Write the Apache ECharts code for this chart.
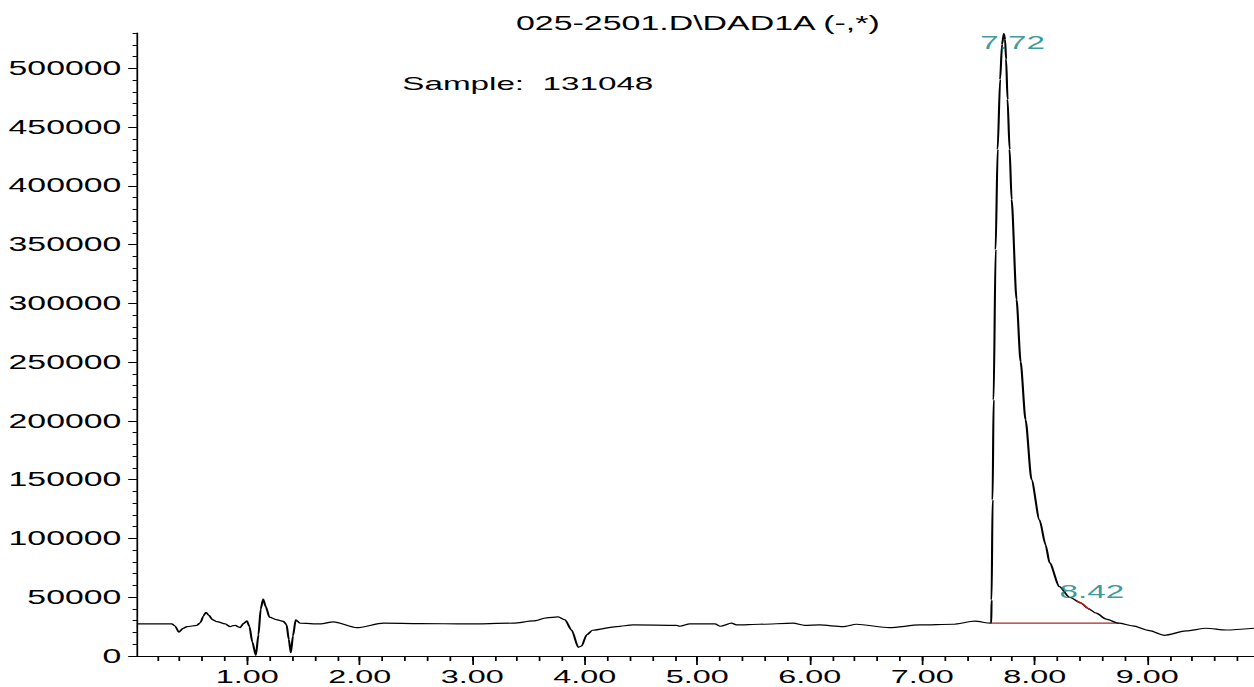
<!DOCTYPE html>
<html>
<head>
<meta charset="utf-8">
<script src="https://cdn.jsdelivr.net/npm/echarts@6/dist/echarts.min.js"></script>
<style>
html,body{margin:0;padding:0;overflow:hidden;background:#fff;}
#wrap{width:717px;height:687px;transform:scaleX(1.749);transform-origin:0 0;}
</style>
</head>
<body>
<div id="wrap"></div>
<script>
// ---- data (retention time in min, signal) ----
const times = [0.02,0.33,0.36,0.392,0.43,0.465,0.553,0.585,0.61,0.634,0.66,0.69,0.731,0.805,0.849,0.875,0.896,0.915,0.938,0.965,0.998,1.02,1.045,1.077,1.10,1.12,1.142,1.165,1.198,1.258,1.322,1.35,1.37,1.388,1.407,1.431,1.47,1.648,1.767,1.974,2.211,2.537,2.951,3.365,3.543,3.662,3.765,3.824,3.884,3.943,3.973,4.017,4.07,4.284,4.431,4.817,4.846,4.935,5.157,5.207,5.305,5.35,5.556,5.852,5.956,6.089,6.296,6.415,6.711,6.977,7.273,7.466,7.614,7.617,7.626,7.635,7.653,7.671,7.693,7.710,7.726,7.737,7.746,7.759,7.777,7.795,7.839,7.875,7.919,7.972,8.043,8.097,8.133,8.22,8.31,8.414,8.472,8.547,8.636,8.748,8.872,9.02,9.153,9.346,9.524,9.702,9.95];
const signal = [27300,27300,25500,20200,23500,25000,26100,28500,34000,37200,34500,31000,29200,27300,25000,25800,26100,25000,24100,27500,29800,25000,12000,500,18000,40000,48500,42000,33000,31000,29500,26500,14000,2800,17000,30700,27900,27300,29000,24100,27900,27600,27300,27900,29800,32400,33200,30700,22100,7400,8500,17900,21900,25000,26400,26100,25300,27300,27300,25300,27900,26400,27000,27900,26100,26400,25000,27000,24100,26400,27000,29600,27900,47700,132900,218000,345800,431000,490600,520400,529500,524700,507700,473600,431000,388400,303200,250400,201000,150000,115800,94600,79200,59000,50000,44900,40600,36400,31300,27900,25600,21600,17600,21300,23600,22100,23600];

const baselineTimes = [7.614, 8.748];
const baselineValues = [27900, 27900];
const splitTimes = [8.37, 8.414, 8.472, 8.49];
const splitValues = [47000, 44900, 40600, 39600];

const peakTimes = [7.72, 8.42];
const peakValues = [529500, 44500];
const peakLabels = ['7.72', '8.42'];

const xMajorTicks = [1, 2, 3, 4, 5, 6, 7, 8, 9];
const yMajorTicks = [0, 50000, 100000, 150000, 200000, 250000, 300000, 350000, 400000, 450000, 500000];
const titleText = '025-2501.D\\DAD1A (-,*)';
const sampleText = 'Sample:  131048';

// ---- build ----
const xMinorTicks = [];
for (let i = 1; i <= 49; i++) xMinorTicks.push(+(i * 0.2).toFixed(1));
const yMinorTicks = [];
for (let i = 0; i <= 53; i++) yMinorTicks.push(i * 10000);

const FONT = '"Liberation Sans", Arial, sans-serif';
const X_MIN = 0.02, X_MAX = 9.95, Y_MIN = 0, Y_MAX = 530000;
const black = {color: '#000', width: 1};

const chart = echarts.init(document.getElementById('wrap'), null, {renderer: 'svg', width: 717, height: 687});
chart.setOption({
  animation: false,
  backgroundColor: '#fff',
  grid: {left: 78.3, right: 0, top: 33, bottom: 31, containLabel: false},
  xAxis: [
    {type: 'value', min: X_MIN, max: X_MAX, position: 'bottom',
     axisLine: {show: true, onZero: false, lineStyle: black},
     axisTick: {show: true, length: 9, customValues: xMajorTicks, lineStyle: black},
     axisLabel: {show: true, customValues: xMajorTicks, margin: 11, color: '#000', fontSize: 18.5, fontFamily: FONT,
                 formatter: v => Number(v).toFixed(2)},
     splitLine: {show: false}},
    {type: 'value', min: X_MIN, max: X_MAX, position: 'bottom',
     axisLine: {show: false, onZero: false},
     axisTick: {show: true, length: 5, customValues: xMinorTicks, lineStyle: black},
     axisLabel: {show: false},
     splitLine: {show: false}}
  ],
  yAxis: [
    {type: 'value', min: Y_MIN, max: Y_MAX, position: 'left',
     axisLine: {show: true, onZero: false, lineStyle: black},
     axisTick: {show: true, length: 5, customValues: yMajorTicks, lineStyle: black},
     axisLabel: {show: true, customValues: yMajorTicks, margin: 9, color: '#000', fontSize: 19.3, fontFamily: FONT,
                 formatter: v => String(v)},
     splitLine: {show: false}},
    {type: 'value', min: Y_MIN, max: Y_MAX, position: 'left',
     axisLine: {show: false, onZero: false},
     axisTick: {show: true, length: 2.5, customValues: yMinorTicks, lineStyle: black},
     axisLabel: {show: false},
     splitLine: {show: false}}
  ],
  graphic: [
    {type: 'text', x: 399, y: 14, style: {text: titleText, fill: '#000', fontSize: 19.4, fontFamily: FONT, textAlign: 'center', textVerticalAlign: 'top'}},
    {type: 'text', x: 230, y: 74, style: {text: sampleText, fill: '#000', fontSize: 19, fontFamily: FONT, textAlign: 'left', textVerticalAlign: 'top'}}
  ],
  series: [
    {type: 'line', name: 'baseline', data: baselineTimes.map((t, i) => [t, baselineValues[i]]),
     showSymbol: false, z: 2, lineStyle: {width: 1.3, color: '#a52a2a'}},
    {type: 'line', name: 'signal', data: times.map((t, i) => [t, signal[i]]),
     showSymbol: false, smooth: 0.25, smoothMonotone: 'x', clip: true,
     lineStyle: {color: '#000', width: 1.2}, z: 3},
    {type: 'line', name: 'split', data: splitTimes.map((t, i) => [t, splitValues[i]]),
     showSymbol: false, smooth: 0.3, z: 4, lineStyle: {width: 1.2, color: '#c01818'}},
    {type: 'scatter', name: 'peaks', data: peakTimes.map((t, i) => [t, peakValues[i]]),
     symbolSize: 1, itemStyle: {color: 'rgba(0,0,0,0)'}, z: 5,
     label: {show: true, position: 'inside', color: '#0a8080', fontSize: 19, fontFamily: FONT,
       formatter: p => peakLabels[p.dataIndex]},
     labelLayout: function (p) {
       return p.dataIndex === 0 ? {dx: 5.4, dy: 8.6} : {dx: 5.7, dy: -12.5};
     }}
  ]
});
</script>
</body>
</html>
